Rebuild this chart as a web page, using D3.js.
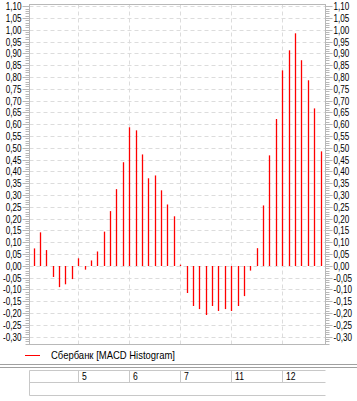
<!DOCTYPE html>
<html><head><meta charset="utf-8">
<script src="https://cdn.jsdelivr.net/npm/d3@7"></script>
<style>body{margin:0;background:#fff}svg{display:block}text{font-family:"Liberation Sans",Arial,sans-serif;fill:#000}</style>
</head><body><svg id="c" width="357" height="401"></svg>
<script>
const values = [0.074,0.142,0.067,-0.047,-0.090,-0.078,-0.056,0.032,-0.016,0.023,
  0.061,0.145,0.232,0.325,0.439,0.587,0.574,0.472,0.371,0.383,
  0.320,0.260,0.210,0.005,-0.115,-0.170,-0.183,-0.208,-0.170,-0.191,
  -0.183,-0.191,-0.170,-0.128,-0.020,0.075,0.256,0.468,0.622,0.828,
  0.913,0.985,0.871,0.786,0.667,0.485];
const categories = values.map((d,i)=>i);
const xTickIndex = [7,15,23,31,39];
const xTickLabels = ["5","6","7","11","12"];
const yTicks = d3.range(-30,111,5).map(v=>v/100);
const seriesName = "Сбербанк [MACD Histogram]";

const svg = d3.select("#c");
const L=29.5,R=325.5,T=4.5,B=344.5;
const x = d3.scalePoint().domain(categories).range([33.5,320.5]);
const y = d3.scaleLinear().domain([-0.333,1.107]).range([B,T]);
const fmt = v => d3.format(".2f")(v).replace(".",",").replace("−","-");
const gridCol="#dcdcdc", axCol="#b8b8b8";

// horizontal grid
svg.append("g").selectAll("line").data(yTicks).join("line")
  .attr("x1",L).attr("x2",R).attr("y1",d=>Math.round(y(d))+0.5).attr("y2",d=>Math.round(y(d))+0.5)
  .attr("stroke",gridCol).attr("stroke-dasharray","4,3");
// vertical grid
svg.append("g").selectAll("line").data(xTickIndex).join("line")
  .attr("x1",d=>Math.round(x(d))+0.5).attr("x2",d=>Math.round(x(d))+0.5).attr("y1",T).attr("y2",B)
  .attr("stroke",gridCol).attr("stroke-dasharray","4,3");

// bars
svg.append("g").selectAll("line").data(values).join("line")
  .attr("x1",(d,i)=>Math.round(x(i))+0.5).attr("x2",(d,i)=>Math.round(x(i))+0.5)
  .attr("y1",Math.round(y(0))).attr("y2",d=>y(d))
  .attr("stroke","#ff0000").attr("stroke-width",1.3);

// border
svg.append("rect").attr("x",L).attr("y",T).attr("width",R-L).attr("height",B-T)
  .attr("fill","none").attr("stroke",axCol);

// minor ticks
const minor = d3.range(-33,111).map(v=>v/100);
[[L,-1],[R,1]].forEach(([x0,s])=>{
  svg.append("g").selectAll("line").data(minor).join("line")
    .attr("x1",x0).attr("x2",d=>x0+s*((Math.round(d*100)%5===0)?7:4))
    .attr("y1",d=>Math.round(y(d))+0.5).attr("y2",d=>Math.round(y(d))+0.5)
    .attr("stroke",axCol);
});
// y labels
const lab = (g, xx, anchor) => g.selectAll("g").data(yTicks).join("g")
  .attr("transform",d=>`translate(${xx},${Math.round(y(d))+4}) scale(0.74,1)`)
  .append("text").attr("text-anchor",anchor).attr("font-size","11px").text(fmt);
lab(svg.append("g"),21.5,"end");
lab(svg.append("g"),333.5,"start");

// legend
svg.append("line").attr("x1",25).attr("x2",40).attr("y1",355.5).attr("y2",355.5).attr("stroke","#ff0000");
svg.append("text").attr("x",51).attr("y",359).attr("font-size","11px")
  .attr("textLength",124).attr("lengthAdjust","spacingAndGlyphs").text(seriesName);

// separator
svg.append("line").attr("x1",0).attr("x2",357).attr("y1",364.5).attr("y2",364.5).attr("stroke","#a0a0a0");
svg.append("line").attr("x1",0).attr("x2",357).attr("y1",367.5).attr("y2",367.5).attr("stroke","#a0a0a0");

// bottom table
const tc="#c8c8c8";
svg.append("line").attr("x1",L).attr("x2",R).attr("y1",370.5).attr("y2",370.5).attr("stroke",tc);
svg.append("line").attr("x1",L).attr("x2",R).attr("y1",382.5).attr("y2",382.5).attr("stroke",tc);
svg.append("line").attr("x1",L).attr("x2",R).attr("y1",395.5).attr("y2",395.5).attr("stroke",tc);
svg.append("line").attr("x1",L).attr("x2",L).attr("y1",370.5).attr("y2",395.5).attr("stroke",tc);
svg.append("g").selectAll("line").data(xTickIndex).join("line")
  .attr("x1",d=>Math.round(x(d))+0.5).attr("x2",d=>Math.round(x(d))+0.5).attr("y1",370.5).attr("y2",382.5).attr("stroke",tc);
svg.append("g").selectAll("g").data(xTickIndex).join("g")
  .attr("transform",(d)=>`translate(${Math.round(x(d))+4},380) scale(0.78,1)`)
  .append("text").attr("font-size","11px").text((d,i)=>xTickLabels[i]);
</script></body></html>
